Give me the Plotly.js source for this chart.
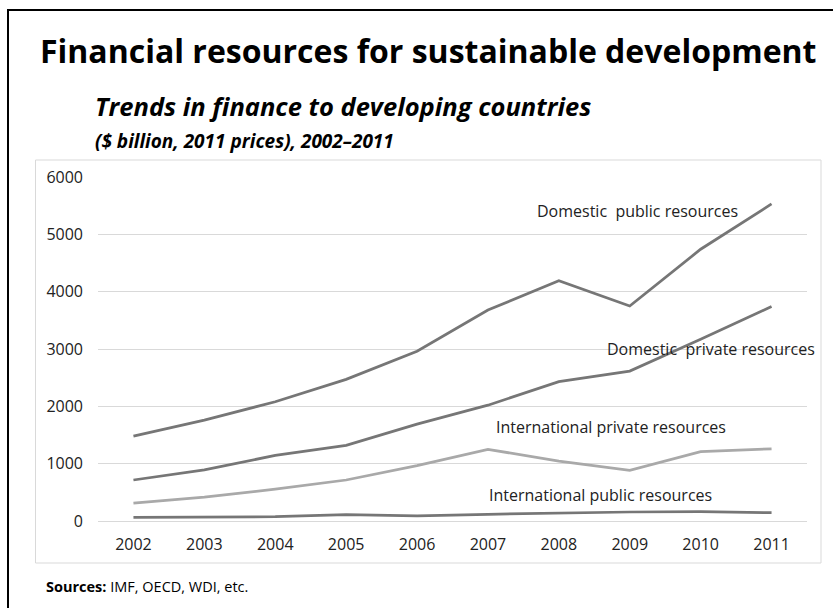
<!DOCTYPE html>
<html>
<head>
<meta charset="utf-8">
<script src="https://cdn.plot.ly/plotly-3.0.1.min.js"></script>
<style>
  html, body { margin: 0; padding: 0; background: #fff; }
  #chart { width: 833px; height: 608px; }
</style>
</head>
<body>
<div id="chart"></div>
<script>
// ---- data ----
const years = ['2002', '2003', '2004', '2005', '2006', '2007', '2008', '2009', '2010', '2011'];
const domesticPublic  = [1480, 1760, 2080, 2470, 2960, 3680, 4190, 3750, 4740, 5530];
const domesticPrivate = [715, 890, 1145, 1320, 1690, 2020, 2430, 2615, 3170, 3740];
const intlPrivate     = [310, 415, 555, 715, 965, 1250, 1045, 885, 1210, 1260];
const intlPublic      = [64, 70, 75, 110, 88, 117, 140, 157, 162, 145];
const seriesNames = ['Domestic  public resources', 'Domestic  private resources',
                     'International private resources', 'International public resources'];
const yTicks = [0, 1000, 2000, 3000, 4000, 5000, 6000];

// ---- layout helpers (pixel -> paper) ----
const W = 833, H = 608;
const M = { l: 98, r: 26, t: 177, b: 87 };
const PW = W - M.l - M.r, PH = H - M.t - M.b;
const px = x => (x - M.l) / PW;
const py = y => (H - M.b - y) / PH;

const dark = '#767676', light = '#a9a9a9';
const FONT = 'Open Sans, sans-serif';

const traces = [
  { x: years, y: domesticPublic, name: seriesNames[0], color: dark },
  { x: years, y: domesticPrivate, name: seriesNames[1], color: dark },
  { x: years, y: intlPrivate, name: seriesNames[2], color: light },
  { x: years, y: intlPublic, name: seriesNames[3], color: dark }
].map(s => ({
  type: 'scatter', mode: 'lines', x: s.x, y: s.y, name: s.name,
  line: { color: s.color, width: 2.75 }, hoverinfo: 'x+y'
}));

const labelFont = { family: FONT, size: 16, color: '#222' };
const annotations = [
  { text: '<b>Financial resources for sustainable development</b>', x: px(38), y: py(50), xanchor: 'left', yanchor: 'middle',
    font: { family: FONT, size: 32, color: '#000' } },
  { text: '<b><i>Trends in finance to developing countries</i></b>', x: px(93), y: py(106), xanchor: 'left', yanchor: 'middle',
    font: { family: FONT, size: 25.5, color: '#000' } },
  { text: '<b><i>($ billion, 2011 prices), 2002–2011</i></b>', x: px(93), y: py(141), xanchor: 'left', yanchor: 'middle',
    font: { family: FONT, size: 19, color: '#000' } },
  { text: seriesNames[0], x: px(637), y: py(211), xanchor: 'center', yanchor: 'middle', font: labelFont },
  { text: seriesNames[1], x: px(711), y: py(349), xanchor: 'center', yanchor: 'middle', font: labelFont },
  { text: seriesNames[2], x: px(611), y: py(427), xanchor: 'center', yanchor: 'middle', font: labelFont },
  { text: seriesNames[3], x: px(600), y: py(495), xanchor: 'center', yanchor: 'middle', font: labelFont },
  { text: '<b>Sources:</b> IMF, OECD, WDI, etc.', x: px(44), y: py(586), xanchor: 'left', yanchor: 'middle',
    font: { family: FONT, size: 14.5, color: '#000' } }
].map(a => Object.assign({ xref: 'paper', yref: 'paper', showarrow: false }, a));

const shapes = [
  // chart box
  { type: 'rect', xref: 'paper', yref: 'paper', x0: px(35.5), x1: px(821), y0: py(563), y1: py(160),
    line: { color: '#d9d9d9', width: 1 }, fillcolor: 'rgba(0,0,0,0)', layer: 'below' },
  // slide frame (left & top edges)
  { type: 'line', xref: 'paper', yref: 'paper', x0: px(8), x1: px(8), y0: py(612), y1: py(10),
    line: { color: '#000', width: 2 } },
  { type: 'line', xref: 'paper', yref: 'paper', x0: px(7), x1: px(840), y0: py(10), y1: py(10),
    line: { color: '#000', width: 2 } }
];

const layout = {
  width: W, height: H,
  margin: M,
  paper_bgcolor: '#fff', plot_bgcolor: '#fff',
  showlegend: false,
  font: { family: FONT, size: 16, color: '#222' },
  xaxis: {
    type: 'category', range: [-0.5, years.length - 0.5],
    showgrid: false, showline: false, zeroline: false, ticks: '',
    tickfont: { family: FONT, size: 16, color: '#222' },
    ticklabelstandoff: 12, fixedrange: true
  },
  yaxis: {
    range: [0, 6000], tickvals: yTicks, ticktext: yTicks.map(String),
    showgrid: true, gridcolor: '#d9d9d9', gridwidth: 1,
    zeroline: true, zerolinecolor: '#d9d9d9', zerolinewidth: 1,
    showline: false, ticks: '',
    tickfont: { family: FONT, size: 16, color: '#222' },
    ticklabelstandoff: 14, fixedrange: true
  },
  annotations: annotations,
  shapes: shapes
};

Plotly.newPlot('chart', traces, layout, { displayModeBar: false, staticPlot: true });
</script>
</body>
</html>
